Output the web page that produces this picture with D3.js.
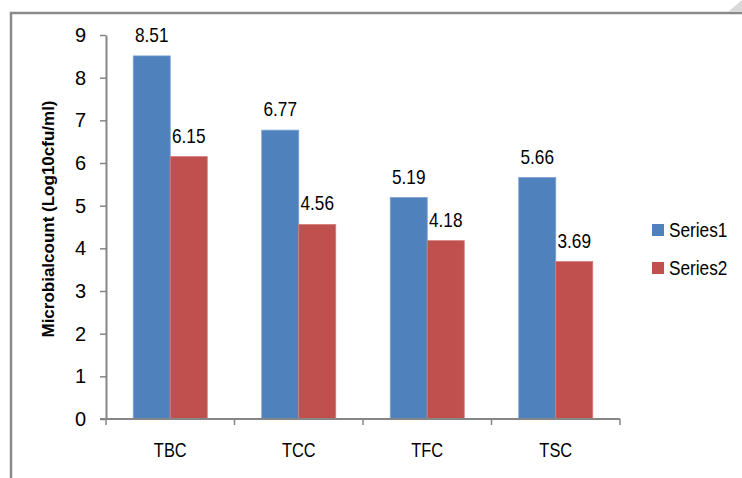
<!DOCTYPE html>
<html>
<head>
<meta charset="utf-8">
<script src="https://cdn.jsdelivr.net/npm/d3@7"></script>
<style>
  body { margin: 0; background: #fff; }
  svg { display: block; }
  text { fill: #000; }
</style>
</head>
<body>
<div id="chart"></div>
<script>
// Chart data
const categories = ['TBC', 'TCC', 'TFC', 'TSC'];
const seriesNames = ['Series1', 'Series2'];
const series1 = [8.51, 6.77, 5.19, 5.66];
const series2 = [6.15, 4.56, 4.18, 3.69];
const yTicks = [0, 1, 2, 3, 4, 5, 6, 7, 8, 9];

const width = 742;
const height = 478;
const font = '"Liberation Sans", Arial, sans-serif';
const squeeze = 0.82; // the original text is condensed horizontally

const svg = d3.select('#chart')
    .append('svg')
    .attr('width', width)
    .attr('height', height);

// Outer chart frame (clipped by the picture edges)
svg.append('rect')
    .attr('x', 11)
    .attr('y', 13)
    .attr('width', 800)
    .attr('height', 600)
    .attr('fill', 'none')
    .attr('stroke', '#8a8a8a')
    .attr('stroke-width', 2.5);

svg.append('path')
    .attr('d', 'M728,12 L742,0 L742,12 Z')
    .attr('fill', '#d9d9d9');

// Scales
const x = d3.scaleBand()
    .domain(categories)
    .range([106, 620])
    .paddingInner(0)
    .paddingOuter(0);

const xSub = d3.scaleBand()
    .domain(seriesNames)
    .range([0, x.bandwidth()])
    .paddingInner(0)
    .paddingOuter(0.736);

const y = d3.scaleLinear()
    .domain([0, 9])
    .range([419, 35]);

const colorScale = d3.scaleOrdinal()
    .domain(seriesNames)
    .range(['#4f81bd', '#c0504d']);
const edgeScale = d3.scaleOrdinal()
    .domain(seriesNames)
    .range(['#7da1d3', '#d67c79']);

// Prepare data
const barData = [];
categories.forEach((c, i) => {
    barData.push({ category: c, series: 'Series1', value: series1[i] });
    barData.push({ category: c, series: 'Series2', value: series2[i] });
});

// Bars
svg.selectAll('rect.bar')
    .data(barData)
    .enter()
    .append('rect')
    .attr('class', 'bar')
    .attr('x', d => x(d.category) + xSub(d.series))
    .attr('y', d => y(d.value))
    .attr('width', xSub.bandwidth())
    .attr('height', d => y(0) - y(d.value))
    .attr('fill', d => colorScale(d.series))
    .attr('stroke', d => edgeScale(d.series))
    .attr('stroke-width', 0.8);

// Value labels
svg.selectAll('text.value')
    .data(barData)
    .enter()
    .append('text')
    .attr('class', 'value')
    .attr('transform', d => `translate(${x(d.category) + xSub(d.series) + xSub.bandwidth() / 2}, ${y(d.value) - 14}) scale(${squeeze},1)`)
    .attr('text-anchor', 'middle')
    .style('font-family', font)
    .style('font-size', '21px')
    .text(d => d.value.toFixed(2));

// Y axis
const yAxis = svg.append('g')
    .attr('transform', 'translate(106,0)')
    .call(d3.axisLeft(y).tickValues(yTicks).tickSize(6).tickSizeOuter(0).tickPadding(14));
yAxis.select('.domain').attr('stroke', '#868686').attr('stroke-width', 2);
yAxis.selectAll('.tick line').attr('stroke', '#868686').attr('stroke-width', 1.5);
yAxis.selectAll('.tick text')
    .style('font-family', font)
    .style('font-size', '20px')
    .attr('fill', '#000');

// X axis with ticks at category boundaries
const bounds = categories.map(c => x(c)).concat([x.range()[1]]);
const xAxis = svg.append('g');
xAxis.append('line')
    .attr('x1', 100)
    .attr('x2', x.range()[1])
    .attr('y1', y(0))
    .attr('y2', y(0))
    .attr('stroke', '#868686')
    .attr('stroke-width', 2);
xAxis.selectAll('line.tick')
    .data(bounds)
    .enter()
    .append('line')
    .attr('class', 'tick')
    .attr('x1', d => d)
    .attr('x2', d => d)
    .attr('y1', y(0))
    .attr('y2', y(0) + 6)
    .attr('stroke', '#868686')
    .attr('stroke-width', 1.5);
xAxis.selectAll('text')
    .data(categories)
    .enter()
    .append('text')
    .attr('transform', d => `translate(${x(d) + x.bandwidth() / 2}, 457) scale(${squeeze},1)`)
    .attr('text-anchor', 'middle')
    .style('font-family', font)
    .style('font-size', '20px')
    .text(d => d);

// Y axis title
svg.append('text')
    .attr('transform', 'translate(54,219) rotate(-90) scale(1,0.95)')
    .attr('text-anchor', 'middle')
    .style('font-family', font)
    .style('font-weight', 'bold')
    .style('font-size', '17px')
    .text('Microbialcount (Log10cfu/ml)');

// Legend
const legend = svg.selectAll('g.legend')
    .data(seriesNames)
    .enter()
    .append('g')
    .attr('class', 'legend')
    .attr('transform', (d, i) => `translate(652, ${224 + i * 38})`);
legend.append('rect')
    .attr('width', 12)
    .attr('height', 12)
    .attr('fill', d => colorScale(d));
legend.append('text')
    .attr('transform', `translate(17, 13) scale(${squeeze},1)`)
    .style('font-family', font)
    .style('font-size', '21px')
    .text(d => d);
</script>
</body>
</html>
